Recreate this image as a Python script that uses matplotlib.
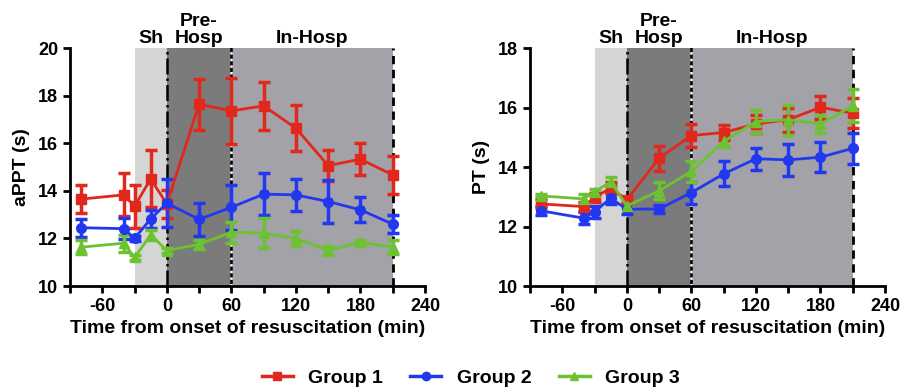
"""Coagulation time-course panels (aPPT and PT) for three groups."""

import matplotlib

matplotlib.use("Agg")
import matplotlib.pyplot as plt
from matplotlib.lines import Line2D
import numpy as np

plt.rcParams["font.family"] = ["Liberation Sans", "DejaVu Sans"]
plt.rcParams["font.weight"] = "bold"
plt.rcParams["axes.unicode_minus"] = False

time_min = [-80, -40, -30, -15, 0, 30, 60, 90, 120, 150, 180, 210]

# aPPT (s): mean and SEM per group
appt_g1 = [13.65, 13.83, 13.35, 14.5, 13.45, 17.64, 17.36, 17.57, 16.63, 15.06, 15.33, 14.67]
appt_g1_err = [0.6, 0.9, 0.9, 1.2, 0.6, 1.07, 1.4, 1.0, 0.97, 0.66, 0.67, 0.8]
appt_g2 = [12.45, 12.41, 12.0, 12.82, 13.48, 12.8, 13.31, 13.86, 13.83, 13.55, 13.2, 12.6]
appt_g2_err = [0.37, 0.43, 0.1, 0.38, 1.0, 0.68, 0.95, 0.88, 0.68, 0.9, 0.53, 0.38]
appt_g3 = [11.63, 11.8, 11.2, 12.15, 11.49, 11.75, 12.26, 12.22, 12.0, 11.5, 11.84, 11.63]
appt_g3_err = [0.3, 0.35, 0.1, 0.2, 0.1, 0.2, 0.45, 0.63, 0.3, 0.2, 0.1, 0.3]

# PT (s)
pt_g1 = [12.76, 12.67, 12.98, 13.29, 12.9, 14.3, 15.06, 15.16, 15.45, 15.59, 16.01, 15.81]
pt_g1_err = [0.15, 0.15, 0.15, 0.2, 0.1, 0.42, 0.37, 0.25, 0.3, 0.4, 0.39, 0.5]
pt_g2 = [12.53, 12.28, 12.5, 12.95, 12.58, 12.59, 13.14, 13.77, 14.28, 14.24, 14.33, 14.63]
pt_g2_err = [0.15, 0.2, 0.2, 0.2, 0.15, 0.15, 0.37, 0.42, 0.37, 0.55, 0.5, 0.53]
pt_g3 = [13.03, 12.93, 13.17, 13.5, 12.69, 13.2, 13.85, 14.86, 15.53, 15.59, 15.45, 16.06]
pt_g3_err = [0.05, 0.15, 0.1, 0.15, 0.05, 0.28, 0.34, 0.2, 0.4, 0.5, 0.3, 0.55]

group_labels = ["Group 1", "Group 2", "Group 3"]
colors = ["#e0281c", "#2138f0", "#6cc230"]
markers = ["s", "o", "^"]

phases = [("Sh", -30, 0, "#d5d5d5"), ("Pre-\nHosp", 0, 60, "#7b7b7b"),
          ("In-Hosp", 60, 210, "#a3a2a8")]


def panel(ax, series, ylim, ylabel):
    lo, hi = ylim
    for name, x0, x1, c in phases:
        ax.fill_between([x0, x1], lo, hi, color=c, lw=0, zorder=0)
        ax.text((x0 + x1) / 2, hi + 0.005 * (hi - lo), name, ha="center",
                va="bottom", fontsize=14, fontweight="bold", linespacing=1.0)
    ax.axvline(0, color="black", ls="-.", lw=1.8, zorder=1)
    ax.axvline(60, color="black", lw=1.8, zorder=1)
    ax.axvline(60, color="white", ls=":", lw=1.8, zorder=1)
    ax.axvline(210, color="black", ls="--", lw=2, dashes=(3, 2), zorder=1)

    for (y, err), c, m, lab in zip(series, colors, markers, group_labels):
        ax.errorbar(time_min, y, yerr=err, color=c, marker=m, ms=7,
                    lw=2, elinewidth=2.5, capsize=4, capthick=2.5,
                    label=lab, zorder=3)

    ax.set_xlim(-90, 240)
    ax.set_ylim(lo, hi)
    ax.set_xticks(np.arange(-60, 241, 60))
    ax.set_xticks(np.arange(-90, 241, 30), minor=True)
    ax.set_yticks(np.arange(lo, hi + 0.1, 2))
    ax.tick_params(which="both", direction="out", length=5, width=2,
                   labelsize=13)
    for lab in ax.get_xticklabels() + ax.get_yticklabels():
        lab.set_fontweight("bold")
    for side in ["top", "right"]:
        ax.spines[side].set_visible(False)
    for side in ["left", "bottom"]:
        ax.spines[side].set_linewidth(2)
    ax.set_xlabel("Time from onset of resuscitation (min)", fontsize=14,
                  fontweight="bold", labelpad=4)
    ax.set_ylabel(ylabel, fontsize=14, fontweight="bold", labelpad=6)


fig = plt.figure(figsize=(9.02, 3.92), dpi=100)
ax1 = fig.add_axes([0.0776, 0.2704, 0.3936, 0.607])
ax2 = fig.add_axes([0.5876, 0.2704, 0.3936, 0.607])

panel(ax1, [(appt_g1, appt_g1_err), (appt_g2, appt_g2_err),
            (appt_g3, appt_g3_err)], (10, 20), "aPPT (s)")
panel(ax2, [(pt_g1, pt_g1_err), (pt_g2, pt_g2_err), (pt_g3, pt_g3_err)],
      (10, 18), "PT (s)")

handles = [Line2D([], [], color=c, marker=m, ms=6, lw=2.5)
           for c, m in zip(colors, markers)]
fig.legend(handles, group_labels, loc="center", bbox_to_anchor=(0.522, 0.035),
           ncol=3, frameon=False, handlelength=1.6, columnspacing=1.4,
           prop={"weight": "bold", "size": 14})

fig.savefig("out.png", dpi=100)
